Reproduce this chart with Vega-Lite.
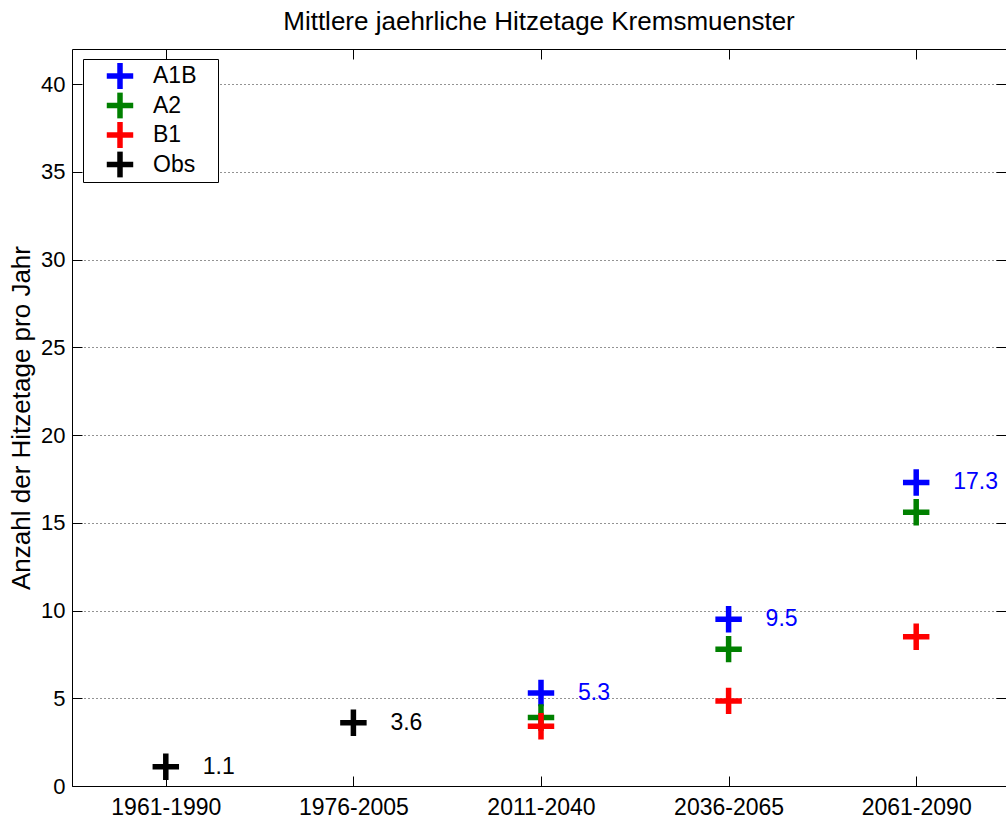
{
  "$schema": "https://vega.github.io/schema/vega-lite/v6.json",
  "width": 934,
  "height": 737,
  "autosize": {"type": "none"},
  "padding": {"left": 72, "top": 49, "right": 0, "bottom": 37},
  "background": "white",
  "title": {"text": "Mittlere jaehrliche Hitzetage Kremsmuenster", "fontSize": 26, "font": "Liberation Sans", "fontWeight": "normal", "color": "#000000", "anchor": "middle", "offset": 14},
  "config": {
    "view": {"stroke": null},
    "font": "Liberation Sans",
    "axis": {"domainColor": "#000000", "tickColor": "#000000", "labelColor": "#000000", "titleColor": "#000000", "domainWidth": 1, "tickWidth": 1}
  },
  "data": {
    "values": [
      {"period": "2011-2040", "series": "A1B", "value": 5.3},
      {"period": "2036-2065", "series": "A1B", "value": 9.5},
      {"period": "2061-2090", "series": "A1B", "value": 17.3},
      {"period": "2011-2040", "series": "A2", "value": 3.9},
      {"period": "2036-2065", "series": "A2", "value": 7.8},
      {"period": "2061-2090", "series": "A2", "value": 15.6},
      {"period": "2011-2040", "series": "B1", "value": 3.4},
      {"period": "2036-2065", "series": "B1", "value": 4.85},
      {"period": "2061-2090", "series": "B1", "value": 8.5},
      {"period": "1961-1990", "series": "Obs", "value": 1.1},
      {"period": "1976-2005", "series": "Obs", "value": 3.6}
    ]
  },
  "layer": [
    {
      "mark": {"type": "point", "shape": "M-1,0H1M0,-1V1", "filled": false, "size": 700, "strokeWidth": 5.5, "opacity": 1},
      "encoding": {
        "x": {"field": "period", "type": "ordinal", "sort": ["1961-1990", "1976-2005", "2011-2040", "2036-2065", "2061-2090"],
              "scale": {"type": "point", "padding": 0.5, "domain": ["1961-1990", "1976-2005", "2011-2040", "2036-2065", "2061-2090"], "range": [0, 938]},
              "axis": {"orient": "bottom", "title": null, "labelAngle": 0, "labelFontSize": 23, "tickSize": -10, "labelPadding": 20, "grid": false}},
        "y": {"field": "value", "type": "quantitative",
              "scale": {"domain": [0, 42], "nice": false, "zero": true},
              "axis": {"orient": "left", "values": [0, 5, 10, 15, 20, 25, 30, 35, 40], "labelFontSize": 22, "tickSize": -10, "labelPadding": 17, "grid": true, "gridColor": "#000000", "gridDash": [1, 3], "gridOpacity": 0.85, "title": "Anzahl der Hitzetage pro Jahr", "titleFontSize": 26, "titleFontWeight": "normal", "titlePadding": 6}},
        "color": {"field": "series", "type": "nominal",
                  "scale": {"domain": ["A1B", "A2", "B1", "Obs"], "range": ["#0000ff", "#008000", "#ff0000", "#000000"]},
                  "legend": {"title": null, "orient": "none", "legendX": 11, "legendY": 10, "fillColor": "#ffffff", "strokeColor": "#000000", "padding": 4, "cornerRadius": 0,
                             "symbolType": "M-1,0H1M0,-1V1", "symbolSize": 700, "symbolStrokeWidth": 5.5, "symbolOffset": 17, "symbolFillColor": "transparent",
                             "clipHeight": 26, "labelFontSize": 23, "labelColor": "#000000", "labelOffset": 17, "rowPadding": 3.5, "labelExpr": "datum.label + '\u2800'"}},
        "order": {"field": "series", "type": "nominal"}
      }
    },
    {
      "transform": [{"filter": "datum.series === 'A1B' || datum.series === 'Obs'"}],
      "mark": {"type": "text", "align": "left", "baseline": "middle", "dx": 37, "fontSize": 23},
      "encoding": {
        "x": {"field": "period", "type": "ordinal",
              "scale": {"type": "point", "padding": 0.5, "domain": ["1961-1990", "1976-2005", "2011-2040", "2036-2065", "2061-2090"], "range": [0, 938]},
              "axis": {"orient": "top", "title": null, "labels": false, "tickSize": -10, "grid": false}},
        "y": {"field": "value", "type": "quantitative",
              "scale": {"domain": [0, 42], "nice": false, "zero": true},
              "axis": {"orient": "right", "title": null, "labels": false, "domain": false, "tickSize": -10, "grid": false, "values": [0, 5, 10, 15, 20, 25, 30, 35, 40]}},
        "color": {"field": "series", "type": "nominal", "legend": null},
        "text": {"field": "value", "type": "quantitative", "format": ".1f"}
      }
    }
  ],
  "resolve": {"axis": {"x": "independent", "y": "independent"}}
}
